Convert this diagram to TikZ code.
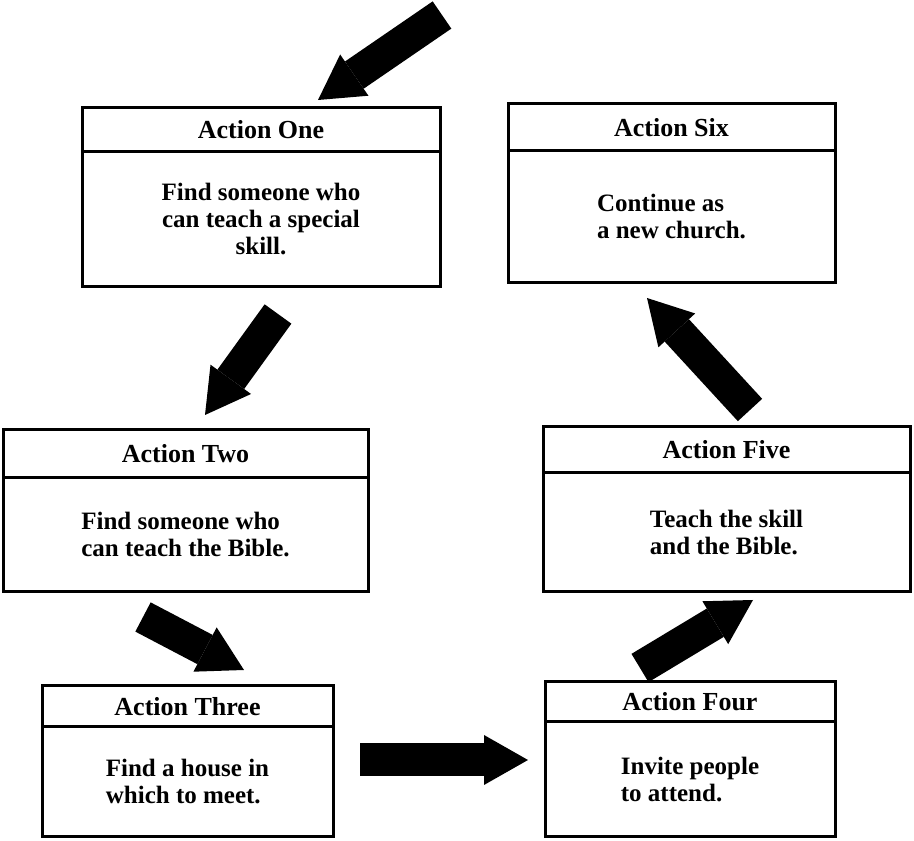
\documentclass[tikz,border=0pt]{standalone}
\usepackage{fontspec}
\setmainfont{Liberation Serif}
\usetikzlibrary{positioning, arrows.meta}

\begin{document}
\begin{tikzpicture}[x=1pt, y=1pt,
    headbox/.style={rectangle, draw=black, line width=3pt, outer sep=0pt, inner sep=0pt, font=\fontsize{26}{28}\selectfont\bfseries},
    bodybox/.style={rectangle, draw=black, line width=3pt, outer sep=0pt, align=left, font=\fontsize{25}{27}\selectfont\bfseries},
    bigarrow/.style={line width=33pt, -{Triangle[length=44pt, width=50pt, line width=0pt]}}
    ]
    \useasboundingbox (0,0) rectangle (914,841);

    \node[headbox, minimum width=358pt, minimum height=44pt] (one)   at (261,711)   {Action One};
    \node[bodybox, minimum width=358pt, minimum height=135pt, align=center] (onetext) [below=0pt of one] {Find someone who\\can teach a special\\skill.};
    \node[headbox, minimum width=365pt, minimum height=48pt] (two)   at (185.5,387) {Action Two};
    \node[bodybox, minimum width=365pt, minimum height=114pt] (twotext) [below=0pt of two] {Find someone who\\can teach the Bible.};
    \node[headbox, minimum width=291pt, minimum height=41pt] (three) at (187.5,134.5) {Action Three};
    \node[bodybox, minimum width=291pt, minimum height=110pt] (threetext) [below=0pt of three] {Find a house in\\which to meet.};
    \node[headbox, minimum width=290pt, minimum height=40pt] (four)  at (690,139)   {Action Four};
    \node[bodybox, minimum width=290pt, minimum height=115pt] (fourtext) [below=0pt of four] {Invite people\\to attend.};
    \node[headbox, minimum width=367pt, minimum height=46pt] (five)  at (726.5,391) {Action Five};
    \node[bodybox, minimum width=367pt, minimum height=119pt] (fivetext) [below=0pt of five] {Teach the skill\\and the Bible.};
    \node[headbox, minimum width=327pt, minimum height=47pt] (six)   at (671.5,713.5) {Action Six};
    \node[bodybox, minimum width=327pt, minimum height=132pt] (sixtext) [below=0pt of six] {Continue as\\a new church.};

    \coordinate (startfrom) at (442,826);
    \coordinate (startto)   at (318,741);
    \coordinate (onefrom)   at (278,527);
    \coordinate (oneto)     at (205,426);
    \coordinate (twofrom)   at (143,224);
    \coordinate (twoto)     at (244,171);
    \coordinate (threefrom) at (360,81);
    \coordinate (threeto)   at (528,81);
    \coordinate (fourfrom)  at (640,173);
    \coordinate (fourto)    at (753,241);
    \coordinate (fivefrom)  at (750,431);
    \coordinate (fiveto)    at (647,543);

    \draw[bigarrow] (startfrom) -- (startto);
    \draw[bigarrow] (onefrom) -- (oneto);
    \draw[bigarrow] (twofrom) -- (twoto);
    \draw[bigarrow] (threefrom) -- (threeto);
    \draw[bigarrow] (fourfrom) -- (fourto);
    \draw[bigarrow] (fivefrom) -- (fiveto);
\end{tikzpicture}
\end{document}
